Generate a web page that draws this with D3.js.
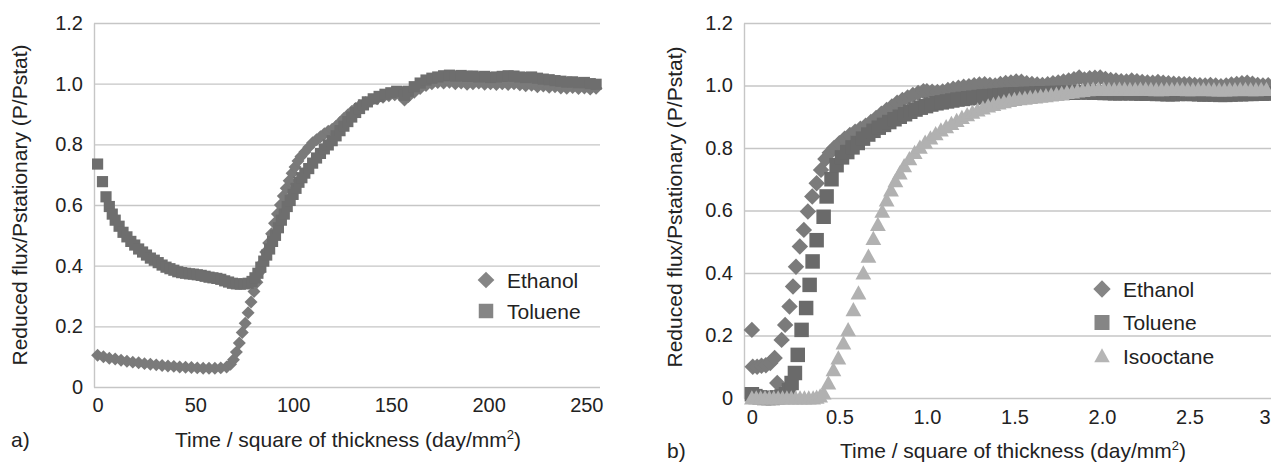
<!DOCTYPE html>
<html>
<head>
<meta charset="utf-8">
<script src="https://cdn.jsdelivr.net/npm/d3@7"></script>
<style>
  html, body { margin: 0; padding: 0; background: #fff; }
  svg { display: block; font-family: "Liberation Sans", Arial, Helvetica, sans-serif; }
</style>
</head>
<body>
<svg id="chart" width="1271" height="465"></svg>
<script>
// ---- Panel a): reduced flux vs time / thickness², [t, P/Pstat]
const ethanolA = [[0,0.105],[3,0.1],[6,0.095],[9,0.092],[12,0.088],[15,0.085],[18,0.082],[21,0.08],[24,0.077],[27,0.075],[30,0.073],[33,0.071],[36,0.069],[39,0.068],[42,0.066],[45,0.065],[48,0.064],[51,0.063],[54,0.062],[57,0.062],[60,0.062],[63,0.063],[66,0.066],[68,0.075],[69.5,0.09],[71,0.115],[72.5,0.145],[74,0.18],[75.5,0.21],[77,0.245],[78.5,0.28],[80,0.315],[81.5,0.345],[83,0.38],[84.5,0.41],[86,0.445],[87.5,0.475],[89,0.505],[90.5,0.54],[92,0.57],[93.5,0.6],[95,0.63],[96.5,0.655],[98,0.68],[99.5,0.705],[101,0.725],[102.5,0.745],[104,0.76],[106,0.775],[108,0.79],[110,0.805],[112,0.815],[114,0.825],[116,0.835],[118,0.843],[120,0.85],[122,0.86],[124,0.872],[126,0.885],[128,0.897],[130,0.908],[132,0.918],[134,0.927],[137,0.937],[140,0.945],[143,0.95],[146,0.955],[149,0.96],[152,0.963],[155,0.96],[157,0.946],[159,0.958],[162,0.972],[165,0.984],[168,0.994],[171,1.0],[174,1.004],[177,1.002],[180,1.005],[183,1.0],[186,1.002],[189,0.998],[192,1.0],[195,1.002],[198,0.998],[201,1.0],[204,0.997],[207,1.0],[210,0.997],[213,1.0],[216,0.996],[219,0.993],[222,0.995],[225,0.99],[228,0.992],[231,0.988],[234,0.99],[237,0.986],[240,0.985],[243,0.987],[246,0.984],[249,0.986],[252,0.982],[255,0.985]];

const tolueneA = [[0,0.735],[2.5,0.677],[4.3,0.627],[6,0.595],[7.5,0.57],[9,0.55],[11,0.53],[13,0.51],[15,0.495],[17,0.48],[19,0.468],[21,0.455],[23,0.445],[25,0.435],[27,0.425],[29,0.418],[31,0.41],[33,0.402],[35,0.395],[37,0.39],[39,0.385],[41,0.38],[43,0.377],[45,0.375],[47,0.373],[49,0.372],[51,0.37],[53,0.368],[55,0.365],[57,0.362],[59,0.36],[61,0.358],[63,0.355],[65,0.35],[67,0.346],[69,0.342],[71,0.34],[73,0.339],[75,0.34],[77,0.342],[79,0.348],[80.5,0.36],[82,0.375],[83.5,0.395],[85,0.415],[86.5,0.435],[88,0.455],[89.5,0.48],[91,0.5],[92.5,0.525],[94,0.55],[95.5,0.57],[97,0.595],[98.5,0.615],[100,0.635],[101.5,0.655],[103,0.675],[104.5,0.69],[106,0.705],[108,0.72],[110,0.738],[112,0.755],[114,0.77],[116,0.785],[118,0.798],[120,0.812],[122,0.828],[124,0.845],[126,0.86],[128,0.875],[130,0.89],[132,0.905],[134,0.918],[136,0.93],[138,0.94],[141,0.95],[144,0.958],[147,0.965],[150,0.97],[153,0.975],[155,0.973],[157,0.962],[159,0.975],[162,0.99],[165,1.002],[168,1.012],[171,1.018],[174,1.022],[177,1.026],[180,1.028],[183,1.025],[186,1.027],[189,1.024],[192,1.025],[195,1.022],[198,1.024],[201,1.02],[204,1.022],[207,1.024],[210,1.026],[213,1.025],[216,1.022],[219,1.02],[222,1.022],[225,1.018],[228,1.015],[231,1.013],[234,1.01],[237,1.008],[240,1.005],[243,1.006],[246,1.003],[249,1.004],[252,1.0],[255,0.998]];

// ---- Panel b)
const ethanolB = [[0,0.218],[0.005,0.1],[0.03,0.1],[0.055,0.103],[0.08,0.105],[0.105,0.112],[0.13,0.128],[0.145,0.048],[0.17,0.186],[0.19,0.234],[0.215,0.293],[0.235,0.357],[0.252,0.42],[0.274,0.485],[0.297,0.538],[0.32,0.597],[0.345,0.645],[0.37,0.687],[0.395,0.73],[0.42,0.765],[0.445,0.785],[0.47,0.8],[0.5,0.815],[0.53,0.83],[0.56,0.842],[0.59,0.852],[0.62,0.862],[0.65,0.871],[0.68,0.883],[0.71,0.896],[0.74,0.91],[0.77,0.922],[0.8,0.933],[0.83,0.945],[0.86,0.954],[0.89,0.962],[0.92,0.97],[0.95,0.976],[0.98,0.982],[1.0,0.982],[1.03,0.98],[1.06,0.979],[1.09,0.981],[1.12,0.986],[1.15,0.99],[1.18,0.993],[1.21,0.996],[1.24,0.998],[1.27,1.001],[1.3,1.003],[1.33,1.004],[1.36,1.002],[1.39,1.0],[1.42,1.005],[1.45,1.008],[1.48,1.01],[1.51,1.013],[1.54,1.012],[1.57,1.007],[1.6,1.005],[1.63,1.003],[1.66,1.002],[1.69,1.004],[1.72,1.007],[1.75,1.01],[1.78,1.013],[1.81,1.016],[1.84,1.02],[1.87,1.026],[1.9,1.019],[1.93,1.023],[1.96,1.025],[1.99,1.026],[2.02,1.021],[2.05,1.018],[2.08,1.016],[2.11,1.014],[2.14,1.013],[2.17,1.016],[2.2,1.014],[2.23,1.011],[2.26,1.01],[2.29,1.009],[2.32,1.011],[2.35,1.009],[2.38,1.007],[2.41,1.006],[2.44,1.005],[2.47,1.004],[2.5,1.004],[2.53,1.002],[2.56,1.001],[2.59,1.0],[2.62,1.002],[2.65,1.0],[2.68,0.998],[2.71,1.0],[2.74,1.003],[2.77,1.005],[2.8,1.007],[2.83,1.009],[2.86,1.006],[2.89,1.002],[2.92,1.0],[2.95,1.001]];

const tolueneB = [[0,0.012],[0.02,0.006],[0.045,0.002],[0.07,0.0],[0.095,0.0],[0.12,0.0],[0.145,0.002],[0.17,0.005],[0.195,0.012],[0.212,0.025],[0.227,0.048],[0.246,0.08],[0.262,0.138],[0.284,0.218],[0.31,0.288],[0.33,0.362],[0.347,0.437],[0.37,0.505],[0.41,0.58],[0.427,0.645],[0.455,0.7],[0.484,0.745],[0.515,0.77],[0.545,0.787],[0.575,0.802],[0.605,0.816],[0.635,0.83],[0.665,0.843],[0.695,0.855],[0.725,0.865],[0.755,0.874],[0.785,0.883],[0.815,0.892],[0.845,0.9],[0.875,0.908],[0.905,0.916],[0.935,0.923],[0.965,0.929],[0.995,0.934],[1.025,0.939],[1.055,0.943],[1.085,0.946],[1.115,0.949],[1.145,0.952],[1.175,0.955],[1.205,0.957],[1.235,0.959],[1.265,0.961],[1.295,0.963],[1.325,0.965],[1.355,0.966],[1.385,0.967],[1.415,0.969],[1.445,0.97],[1.475,0.971],[1.505,0.972],[1.535,0.972],[1.565,0.973],[1.595,0.973],[1.625,0.974],[1.655,0.975],[1.685,0.975],[1.715,0.976],[1.745,0.976],[1.775,0.976],[1.805,0.977],[1.835,0.977],[1.865,0.978],[1.895,0.978],[1.925,0.978],[1.955,0.977],[1.985,0.977],[2.015,0.976],[2.045,0.976],[2.075,0.975],[2.105,0.975],[2.135,0.976],[2.165,0.975],[2.195,0.975],[2.225,0.974],[2.255,0.974],[2.285,0.975],[2.315,0.973],[2.345,0.973],[2.375,0.972],[2.405,0.972],[2.435,0.973],[2.465,0.974],[2.495,0.973],[2.525,0.973],[2.555,0.972],[2.585,0.971],[2.615,0.972],[2.645,0.971],[2.675,0.97],[2.705,0.97],[2.735,0.971],[2.765,0.972],[2.795,0.972],[2.825,0.973],[2.855,0.973],[2.885,0.974],[2.915,0.974],[2.945,0.974]];

const isooctaneB = [[0,0],[0.025,0],[0.05,0],[0.075,0],[0.1,0],[0.125,0],[0.15,0],[0.175,0],[0.2,0],[0.225,0],[0.25,0],[0.275,0],[0.3,0],[0.325,0],[0.35,0],[0.37,0.002],[0.39,0.006],[0.41,0.016],[0.437,0.048],[0.466,0.09],[0.494,0.128],[0.523,0.176],[0.55,0.218],[0.58,0.282],[0.609,0.336],[0.637,0.4],[0.666,0.453],[0.694,0.51],[0.72,0.555],[0.745,0.597],[0.77,0.633],[0.795,0.665],[0.82,0.695],[0.845,0.72],[0.87,0.743],[0.9,0.765],[0.93,0.785],[0.96,0.802],[0.99,0.818],[1.02,0.832],[1.05,0.845],[1.08,0.857],[1.11,0.868],[1.14,0.878],[1.17,0.888],[1.2,0.897],[1.23,0.906],[1.26,0.914],[1.29,0.921],[1.32,0.928],[1.35,0.934],[1.38,0.939],[1.41,0.944],[1.44,0.948],[1.47,0.952],[1.5,0.955],[1.53,0.957],[1.56,0.959],[1.59,0.961],[1.62,0.963],[1.65,0.965],[1.68,0.967],[1.71,0.969],[1.74,0.972],[1.77,0.974],[1.8,0.977],[1.83,0.979],[1.86,0.982],[1.89,0.984],[1.92,0.986],[1.95,0.988],[1.98,0.988],[2.01,0.988],[2.04,0.987],[2.07,0.987],[2.1,0.988],[2.13,0.988],[2.16,0.987],[2.19,0.987],[2.22,0.988],[2.25,0.988],[2.28,0.987],[2.31,0.986],[2.34,0.986],[2.37,0.987],[2.4,0.987],[2.43,0.988],[2.46,0.987],[2.49,0.986],[2.52,0.986],[2.55,0.987],[2.58,0.987],[2.61,0.986],[2.64,0.986],[2.67,0.985],[2.7,0.985],[2.73,0.986],[2.76,0.986],[2.79,0.987],[2.82,0.987],[2.85,0.986],[2.88,0.986],[2.91,0.987],[2.94,0.987]];

// ---- Tick values and labels
const yTicks = [0, 0.2, 0.4, 0.6, 0.8, 1.0, 1.2];
const xTicksA = [0, 50, 100, 150, 200, 250];
const xTicksB = [0, 0.5, 1.0, 1.5, 2.0, 2.5, 3.0];
const seriesNamesA = ["Ethanol", "Toluene"];
const seriesNamesB = ["Ethanol", "Toluene", "Isooctane"];
const yTitle = "Reduced flux/Pstationary (P/Pstat)";
const xTitle = "Time / square of thickness (day/mm";

// ---- Marker shapes
const diamond = { draw(ctx, size) { const r = Math.sqrt(size / 2); ctx.moveTo(0, -r); ctx.lineTo(r, 0); ctx.lineTo(0, r); ctx.lineTo(-r, 0); ctx.closePath(); } };
const triangle = { draw(ctx, size) { const w = Math.sqrt(size); const h = w * 0.9; ctx.moveTo(0, -h * 0.55); ctx.lineTo(w / 2, h * 0.45); ctx.lineTo(-w / 2, h * 0.45); ctx.closePath(); } };

const INK = "#222";
const GRID = "#c6c6c6";
const fmt = d => d === 0 ? "0" : (d === 3 ? "3" : d3.format(".1f")(d));
const W = 1271;

const svg = d3.select("#chart");

function panel(cfg) {
  const g = svg.append("g");
  const x = d3.scaleLinear().domain(cfg.xDomain).range([cfg.left, cfg.right]);
  const y = d3.scaleLinear().domain([0, 1.2]).range([cfg.bottom, cfg.top]);
  const w = cfg.right - cfg.left;

  // horizontal grid + y labels
  const ya = g.append("g").attr("transform", `translate(${cfg.left},0)`)
    .call(d3.axisLeft(y).tickValues(yTicks).tickFormat(fmt).tickSizeInner(-w).tickSizeOuter(0).tickPadding(11));
  ya.select(".domain").attr("stroke", GRID).attr("stroke-width", 1.4);
  ya.selectAll(".tick line").attr("stroke", GRID).attr("stroke-width", 1.4);
  ya.selectAll(".tick text").attr("fill", INK).style("font-size", "20px").attr("font-family", null);

  // x labels (kept inside the drawing at the right edge)
  const xa = g.append("g").attr("transform", `translate(0,${cfg.bottom})`)
    .call(d3.axisBottom(x).tickValues(cfg.xTicks).tickFormat(cfg.xFmt).tickSize(0).tickPadding(cfg.xPad));
  xa.select(".domain").remove();
  xa.selectAll(".tick text").attr("fill", INK).style("font-size", "20px").attr("font-family", null)
    .each(function (d) {
      const half = this.getComputedTextLength() / 2;
      const over = x(d) + half - (W - 1);
      if (over > 0) d3.select(this).attr("x", -over);
    });

  // markers
  cfg.series.forEach(s => {
    const sym = d3.symbol().type(s.type).size(s.size);
    g.append("g").selectAll("path").data(s.data).join("path")
      .attr("d", sym)
      .attr("transform", d => `translate(${x(d[0])},${y(d[1])})`)
      .attr("fill", s.color);
  });

  // legend
  cfg.series.forEach((s, i) => {
    const ly = cfg.legend.y + i * cfg.legend.dy;
    g.append("path").attr("d", d3.symbol().type(s.type).size(s.legendSize)())
      .attr("transform", `translate(${cfg.legend.x},${ly})`).attr("fill", s.legendColor);
    g.append("text").attr("x", cfg.legend.x + 21).attr("y", ly + 7.5)
      .attr("fill", INK).style("font-size", "21px").text(s.name);
  });

  // y title
  g.append("text").attr("transform", `translate(${cfg.yTitleX},${cfg.yTitleY}) rotate(-90)`)
    .attr("text-anchor", "middle").attr("dy", "0.35em")
    .attr("fill", INK).style("font-size", "21px").text(yTitle);

  // x title with superscript
  const t = g.append("text").attr("x", cfg.xTitleX).attr("y", cfg.xTitleY)
    .attr("text-anchor", "middle").attr("fill", INK).style("font-size", "21px");
  t.append("tspan").text(xTitle);
  t.append("tspan").attr("dy", -8).style("font-size", "13px").text("2");
  t.append("tspan").attr("dy", 8).text(")");

  // panel letter
  g.append("text").attr("x", cfg.letterX).attr("y", cfg.xTitleY)
    .attr("fill", INK).style("font-size", "21px").text(cfg.letter);
}

panel({
  left: 94, right: 600, top: 23, bottom: 387,
  xDomain: [-1.84, 257], xTicks: xTicksA, xFmt: d3.format("d"), xPad: 11,
  series: [
    { name: seriesNamesA[0], data: ethanolA, type: diamond, size: 84, color: "#7a7a7a", legendSize: 140, legendColor: "#858585" },
    { name: seriesNamesA[1], data: tolueneA, type: d3.symbolSquare, size: 125, color: "#6e6e6e", legendSize: 210, legendColor: "#858585" }
  ],
  legend: { x: 486, y: 280, dy: 31 },
  yTitleX: 20, yTitleY: 205,
  xTitleX: 348, xTitleY: 447,
  letter: "a)", letterX: 11
});

panel({
  left: 744, right: 1271, top: 23, bottom: 398,
  xDomain: [-0.045, 2.966], xTicks: xTicksB, xFmt: fmt, xPad: 12,
  series: [
    { name: seriesNamesB[0], data: ethanolB, type: diamond, size: 135, color: "#7b7b7b", legendSize: 150, legendColor: "#858585" },
    { name: seriesNamesB[1], data: tolueneB, type: d3.symbolSquare, size: 210, color: "#6a6a6a", legendSize: 225, legendColor: "#858585" },
    { name: seriesNamesB[2], data: isooctaneB, type: triangle, size: 250, color: "#b1b1b1", legendSize: 240, legendColor: "#b5b5b5" }
  ],
  legend: { x: 1102, y: 289, dy: 33.5 },
  yTitleX: 675, yTitleY: 207,
  xTitleX: 1013, xTitleY: 458,
  letter: "b)", letterX: 667
});
</script>
</body>
</html>
